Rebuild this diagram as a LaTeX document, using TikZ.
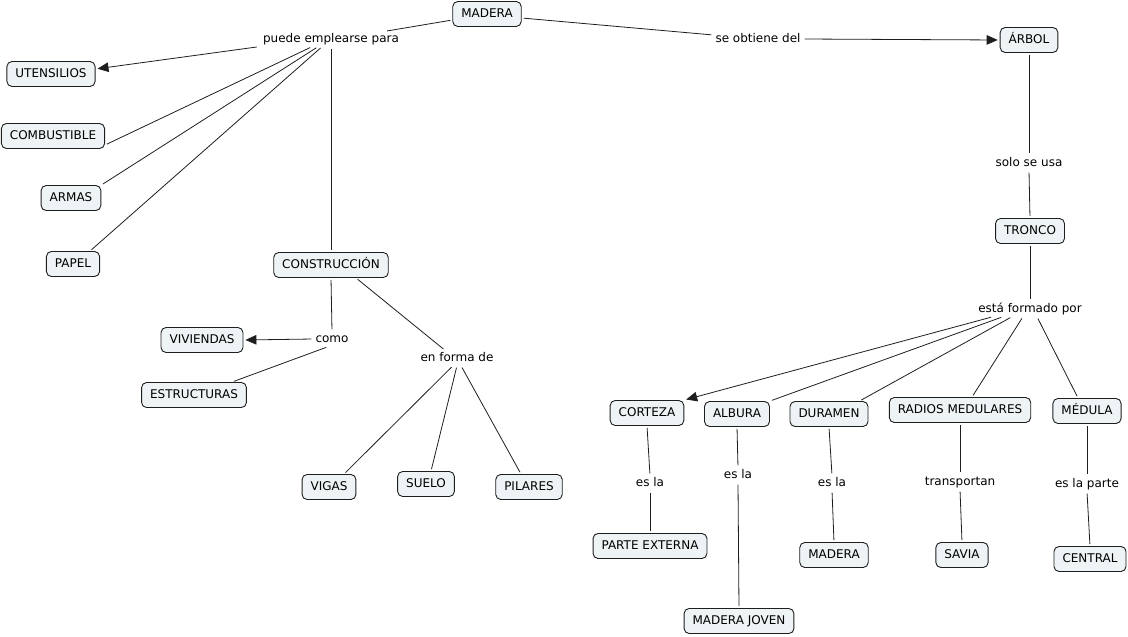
\documentclass[tikz,border=0pt]{standalone}
\usepackage{fontspec}
\setmainfont{DejaVu Sans}
\usepackage{tikz}
\usetikzlibrary{arrows.meta,positioning}
\definecolor{cmapfill}{RGB}{238,243,246}
\definecolor{cmapline}{RGB}{30,30,30}
\tikzset{
  concept/.style={draw=cmapline,fill=cmapfill,rounded corners=5pt,line width=0.9pt,
    minimum height=25pt,inner xsep=8.5pt,inner ysep=0pt,
    text height=8.5pt,text depth=2.5pt,font=\fontsize{12}{14}\selectfont},
  phrase/.style={inner sep=2pt,text height=8.5pt,text depth=2.5pt,
    font=\fontsize{12}{14}\selectfont},
  link/.style={draw=cmapline,line width=0.8pt,shorten <=2pt,shorten >=2pt},
  arrowlink/.style={link,-{Triangle[length=11pt,width=9.5pt]}}
}
\begin{document}
\begin{tikzpicture}[x=1pt,y=-1pt]
  \useasboundingbox (0,0) rectangle (1128,637);

  % conceptos
  \node [concept] (madera) at (487,14) {MADERA};
  \node [concept] (utensilios) at (51,74) {UTENSILIOS};
  \node [concept] (combustible) at (53,136) {COMBUSTIBLE};
  \node [concept] (armas) at (71,198) {ARMAS};
  \node [concept] (papel) at (73,264) {PAPEL};
  \node [concept] (construccion) at (331,265) {CONSTRUCCIÓN};
  \node [concept] (viviendas) at (202,340) {VIVIENDAS};
  \node [concept] (estructuras) at (194,395) {ESTRUCTURAS};
  \node [concept] (vigas) at (329,487) {VIGAS};
  \node [concept] (suelo) at (426,484) {SUELO};
  \node [concept] (pilares) at (529,487) {PILARES};
  \node [concept] (arbol) at (1029,40) {ÁRBOL};
  \node [concept] (tronco) at (1030,231) {TRONCO};
  \node [concept] (corteza) at (647,413) {CORTEZA};
  \node [concept] (albura) at (737,414) {ALBURA};
  \node [concept] (duramen) at (829,414) {DURAMEN};
  \node [concept] (radios) at (960,410) {RADIOS MEDULARES};
  \node [concept] (medula) at (1087,411) {MÉDULA};
  \node [concept] (externa) at (650,546) {PARTE EXTERNA};
  \node [concept] (joven) at (739,621) {MADERA JOVEN};
  \node [concept] (madera2) at (834,555) {MADERA};
  \node [concept] (savia) at (962,555) {SAVIA};
  \node [concept] (central) at (1090,559) {CENTRAL};

  % frases de enlace
  \node [phrase] (usos) at (331,39) {puede emplearse para};
  \node [phrase] (obtiene) at (758,39) {se obtiene del};
  \node [phrase] (usa) at (1029,163) {solo se usa};
  \node [phrase] (formado) at (1030,309) {está formado por};
  \node [phrase] (como) at (332,339) {como};
  \node [phrase] (forma) at (457,358) {en forma de};
  \node [phrase] (esla1) at (650,483) {es la};
  \node [phrase] (esla2) at (738,475) {es la};
  \node [phrase] (esla3) at (832,483) {es la};
  \node [phrase] (transportan) at (960,482) {transportan};
  \node [phrase] (parte) at (1087,484) {es la parte};

  % enlaces
  \draw [link] ([yshift=-6pt]madera.west) -- ([xshift=-16pt]usos.north east);
  \draw [arrowlink] ([xshift=-2pt]usos.south west) -- ([yshift=5pt]utensilios.east);
  \draw [link] ([xshift=-19pt]usos.south) -- ([yshift=-9pt]combustible.east);
  \draw [link] ([xshift=-13pt]usos.south) -- (armas.north east);
  \draw [link] ([xshift=-9pt]usos.south) -- ([xshift=17pt]papel.north);
  \draw [link] (usos.south) -- (construccion.north);

  \draw [link] ([yshift=-4pt]madera.east) -- ([yshift=4pt]obtiene.west);
  \draw [arrowlink] (obtiene.east) -- (arbol.west);
  \draw [link] (arbol.south) -- (usa.north);
  \draw [link] (usa.south) -- (tronco.north);
  \draw [link] (tronco.south) -- (formado.north);

  \draw [arrowlink] ([xshift=-37pt]formado.south) -- (corteza.north east);
  \draw [link] ([xshift=-27pt]formado.south) -- (albura.north east);
  \draw [link] ([xshift=-18pt]formado.south) -- ([xshift=-9pt]duramen.north east);
  \draw [link] ([xshift=-7pt]formado.south) -- ([xshift=12pt]radios.north);
  \draw [link] ([xshift=7pt]formado.south) -- ([xshift=-9pt]medula.north);

  \draw [link] (construccion.south) -- (como.north);
  \draw [arrowlink] (como.west) -- (viviendas.east);
  \draw [link] ([xshift=-4pt]como.south) -- ([xshift=38pt]estructuras.north);
  \draw [link] ([xshift=25pt]construccion.south) -- ([xshift=-12pt]forma.north);
  \draw [link] ([xshift=-4pt]forma.south) -- ([xshift=15pt]vigas.north);
  \draw [link] (forma.south) -- ([xshift=5pt]suelo.north);
  \draw [link] ([xshift=4pt]forma.south) -- ([xshift=-8pt]pilares.north);

  \draw [link] (corteza.south) -- (esla1.north);
  \draw [link] (esla1.south) -- (externa.north);
  \draw [link] (albura.south) -- (esla2.north);
  \draw [link] (esla2.south) -- (joven.north);
  \draw [link] (duramen.south) -- (esla3.north);
  \draw [link] (esla3.south) -- (madera2.north);
  \draw [link] (radios.south) -- (transportan.north);
  \draw [link] (transportan.south) -- (savia.north);
  \draw [link] (medula.south) -- (parte.north);
  \draw [link] (parte.south) -- (central.north);
\end{tikzpicture}
\end{document}
